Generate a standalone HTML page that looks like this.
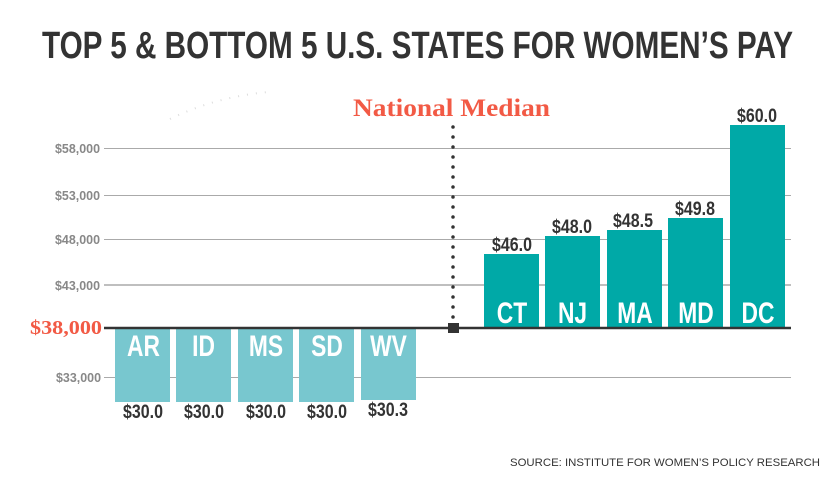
<!DOCTYPE html>
<html><head><meta charset="utf-8"><style>
html,body{margin:0;padding:0;background:#fff;width:840px;height:485px;overflow:hidden}
svg{display:block}
.t{font-family:"Liberation Sans Narrow","Liberation Sans",sans-serif;font-weight:bold}
</style></head><body>
<svg width="840" height="485" viewBox="0 0 840 485">
<text class="t" x="42" y="58" font-size="38" fill="#333" textLength="751" lengthAdjust="spacingAndGlyphs">TOP 5 &amp; BOTTOM 5 U.S. STATES FOR WOMEN’S PAY</text>
<path d="M170 119 Q215 97 268 92" stroke="#ddd" stroke-width="2" stroke-dasharray="1 8" fill="none"/>
<g stroke="#aaa" stroke-width="1">
<line x1="104" y1="148.5" x2="791" y2="148.5"/>
<line x1="104" y1="195.5" x2="791" y2="195.5"/>
<line x1="104" y1="239.5" x2="791" y2="239.5"/>
<line x1="104" y1="285" x2="791" y2="285" stroke-width="1.5"/>
<line x1="104" y1="377.5" x2="791" y2="377.5"/>
</g>
<g font-family="Liberation Sans,sans-serif" font-weight="bold" font-size="13" fill="#888">
<text x="55" y="153" textLength="45" lengthAdjust="spacingAndGlyphs">$58,000</text>
<text x="55" y="200" textLength="45" lengthAdjust="spacingAndGlyphs">$53,000</text>
<text x="55" y="244" textLength="45" lengthAdjust="spacingAndGlyphs">$48,000</text>
<text x="55" y="290" textLength="45" lengthAdjust="spacingAndGlyphs">$43,000</text>
<text x="56" y="382" textLength="45" lengthAdjust="spacingAndGlyphs">$33,000</text>
</g>
<text x="30" y="334" textLength="72" lengthAdjust="spacingAndGlyphs" font-family="Liberation Serif,serif" font-weight="bold" font-size="20" fill="#f25a45">$38,000</text>
<text x="353" y="116" textLength="197" lengthAdjust="spacingAndGlyphs" font-family="Liberation Serif,serif" font-weight="bold" font-size="25" fill="#f25a45">National Median</text>
<g fill="#78c7cf">
<rect x="115" y="329" width="55" height="73"/>
<rect x="176" y="329" width="55" height="73"/>
<rect x="238" y="329" width="55" height="73"/>
<rect x="299" y="329" width="55" height="73"/>
<rect x="361" y="329" width="55" height="71"/>
</g>
<g fill="#00a9a7">
<rect x="484" y="254" width="55" height="74"/>
<rect x="545" y="236" width="55" height="92"/>
<rect x="607" y="230" width="55" height="98"/>
<rect x="668" y="218" width="55" height="110"/>
<rect x="730" y="125" width="55" height="203"/>
</g>
<line x1="104" y1="328" x2="791" y2="328" stroke="#333" stroke-width="2.5"/>
<line x1="453" y1="127" x2="453" y2="320" stroke="#333" stroke-width="3.5" stroke-linecap="round" stroke-dasharray="0 10"/>
<rect x="448" y="323" width="11" height="10" fill="#333"/>
<g class="t" font-size="30" fill="#fff" text-anchor="middle">
<text transform="translate(143.5,356) scale(0.76,1)">AR</text>
<text transform="translate(203.5,356) scale(0.76,1)">ID</text>
<text transform="translate(266,356) scale(0.76,1)">MS</text>
<text transform="translate(327,356) scale(0.76,1)">SD</text>
<text transform="translate(388.5,356) scale(0.76,1)">WV</text>
<text transform="translate(512,323) scale(0.76,1)">CT</text>
<text transform="translate(572.5,323) scale(0.76,1)">NJ</text>
<text transform="translate(635,323) scale(0.76,1)">MA</text>
<text transform="translate(696,323) scale(0.76,1)">MD</text>
<text transform="translate(758,323) scale(0.76,1)">DC</text>
</g>
<g class="t" font-size="19" fill="#333" text-anchor="middle">
<text transform="translate(143,418) scale(0.84,1)">$30.0</text>
<text transform="translate(204,418) scale(0.84,1)">$30.0</text>
<text transform="translate(266,418) scale(0.84,1)">$30.0</text>
<text transform="translate(327,418) scale(0.84,1)">$30.0</text>
<text transform="translate(388,416) scale(0.84,1)">$30.3</text>
<text transform="translate(512,251) scale(0.84,1)">$46.0</text>
<text transform="translate(572,233) scale(0.84,1)">$48.0</text>
<text transform="translate(633,227) scale(0.84,1)">$48.5</text>
<text transform="translate(695,215) scale(0.84,1)">$49.8</text>
<text transform="translate(757,122) scale(0.84,1)">$60.0</text>
</g>
<text x="510" y="466" textLength="310" lengthAdjust="spacingAndGlyphs" font-family="Liberation Sans,sans-serif" font-size="11" fill="#333">SOURCE: INSTITUTE FOR WOMEN’S POLICY RESEARCH</text>
</svg>
</body></html>
